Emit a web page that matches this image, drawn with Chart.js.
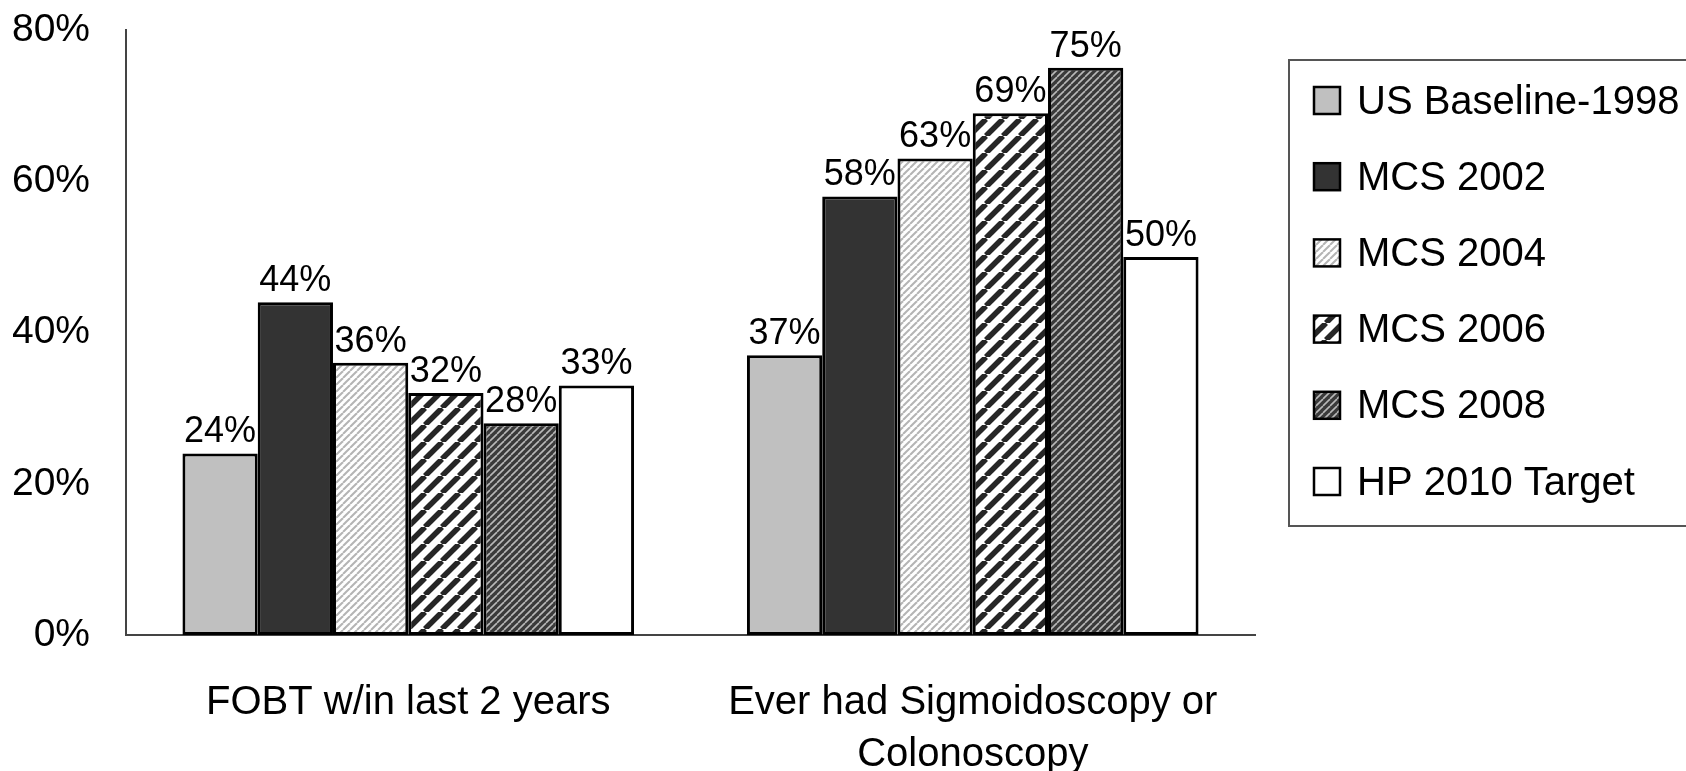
<!DOCTYPE html>
<html lang="en">
<head>
    <meta charset="UTF-8">
    <style>
        * {
            margin: 0;
            padding: 0;
            box-sizing: border-box;
        }
        body {
            background-color: #ffffff;
            font-family: "Liberation Sans", Arial, sans-serif;
        }
        .chart-box {
            width: 1686px;
            height: 771px;
        }
    </style>
</head>
<body>
    <div class="chart-box">
        <canvas id="myChart"></canvas>
    </div>

    <script src="https://cdn.jsdelivr.net/npm/chart.js"></script>
    <script>
        const categories = [["FOBT w/in last 2 years"], ["Ever had Sigmoidoscopy or", "Colonoscopy"]];
        const seriesNames = ["US Baseline-1998", "MCS 2002", "MCS 2004", "MCS 2006", "MCS 2008", "HP 2010 Target"];
        const baseline1998 = [24, 37];
        const mcs2002 = [44, 58];
        const mcs2004 = [36, 63];
        const mcs2006 = [32, 69];
        const mcs2008 = [28, 75];
        const hpTarget = [33, 50];
        const yTicks = [0, 20, 40, 60, 80];

        // diagonal hatch tiles, like the old excel fills
        function makeHatch(size, bg, lineColor, lineWidth) {
            const c = document.createElement("canvas");
            c.width = size;
            c.height = size;
            const g = c.getContext("2d");
            g.fillStyle = bg;
            g.fillRect(0, 0, size, size);
            g.strokeStyle = lineColor;
            g.lineWidth = lineWidth;
            for (let k = -1; k <= 1; k++) {
                g.beginPath();
                g.moveTo(k * size, size);
                g.lineTo(k * size + size, 0);
                g.stroke();
            }
            return g.createPattern(c, "repeat");
        }

        const fills = [
            "#c0c0c0",
            "#333333",
            makeHatch(7, "#ffffff", "#b4b4b4", 2),
            makeHatch(17, "#ffffff", "#262626", 5.5),
            makeHatch(7, "#3a3a3a", "#b8b8b8", 1.6),
            "#ffffff"
        ];
        const values = [baseline1998, mcs2002, mcs2004, mcs2006, mcs2008, hpTarget];

        // value labels above each bar
        const barLabels = {
            id: "barLabels",
            afterDatasetsDraw(chart) {
                const ctx = chart.ctx;
                ctx.save();
                ctx.font = "36px 'Liberation Sans', Arial, sans-serif";
                ctx.fillStyle = "#000";
                ctx.textAlign = "center";
                ctx.textBaseline = "bottom";
                chart.data.datasets.forEach((ds, i) => {
                    chart.getDatasetMeta(i).data.forEach((bar, j) => {
                        ctx.fillText(ds.data[j] + "%", bar.x, bar.y - 3);
                    });
                });
                ctx.restore();
            }
        };

        // boxed legend at the right, drawn by hand
        const boxLegend = {
            id: "boxLegend",
            afterDraw(chart) {
                const ctx = chart.ctx;
                ctx.save();
                ctx.strokeStyle = "#555";
                ctx.lineWidth = 2;
                ctx.strokeRect(1289, 60, 420, 466);
                ctx.font = "40px 'Liberation Sans', Arial, sans-serif";
                ctx.textAlign = "left";
                ctx.textBaseline = "middle";
                chart.data.datasets.forEach((ds, i) => {
                    const cy = 100.5 + i * 76.2;
                    ctx.fillStyle = ds.backgroundColor;
                    ctx.fillRect(1314, cy - 13.5, 26, 27);
                    ctx.strokeStyle = "#000";
                    ctx.lineWidth = 2.5;
                    ctx.strokeRect(1314, cy - 13.5, 26, 27);
                    ctx.fillStyle = "#000";
                    ctx.fillText(ds.label, 1357, cy + 2);
                });
                ctx.restore();
            }
        };

        new Chart("myChart", {
            type: "bar",
            data: {
                labels: categories,
                datasets: seriesNames.map((name, i) => ({
                    label: name,
                    data: values[i],
                    backgroundColor: fills[i],
                    borderColor: "#000",
                    borderWidth: 3,
                    borderSkipped: false,
                    categoryPercentage: 0.8,
                    barPercentage: 1.0
                }))
            },
            options: {
                responsive: true,
                maintainAspectRatio: false,
                animation: false,
                layout: {
                    padding: { top: 30, right: 431, bottom: 0, left: 13 }
                },
                plugins: {
                    legend: { display: false },
                    tooltip: { enabled: false }
                },
                scales: {
                    x: {
                        grid: { display: false, drawTicks: false },
                        border: { display: true, color: "#444", width: 2 },
                        ticks: {
                            color: "#000",
                            padding: 42,
                            font: { family: "'Liberation Sans', Arial, sans-serif", size: 40, lineHeight: 1.3 }
                        },
                        // chart.js counts tick padding twice, pin the size instead
                        afterFit: axis => {
                            axis.height = 136;
                            axis.paddingLeft = 0;
                            axis.paddingRight = 0;
                        }
                    },
                    y: {
                        min: 0,
                        max: 80,
                        afterBuildTicks: axis => {
                            axis.ticks = yTicks.map(v => ({ value: v }));
                        },
                        grid: { display: false, drawTicks: false },
                        border: { display: true, color: "#444", width: 2 },
                        ticks: {
                            color: "#000",
                            padding: 36,
                            font: { family: "'Liberation Sans', Arial, sans-serif", size: 39 },
                            callback: v => v + "%"
                        },
                        afterFit: axis => {
                            axis.width = 113;
                            axis.paddingTop = 0;
                            axis.paddingBottom = 0;
                        }
                    }
                }
            },
            plugins: [barLabels, boxLegend]
        });
    </script>
</body>
</html>
